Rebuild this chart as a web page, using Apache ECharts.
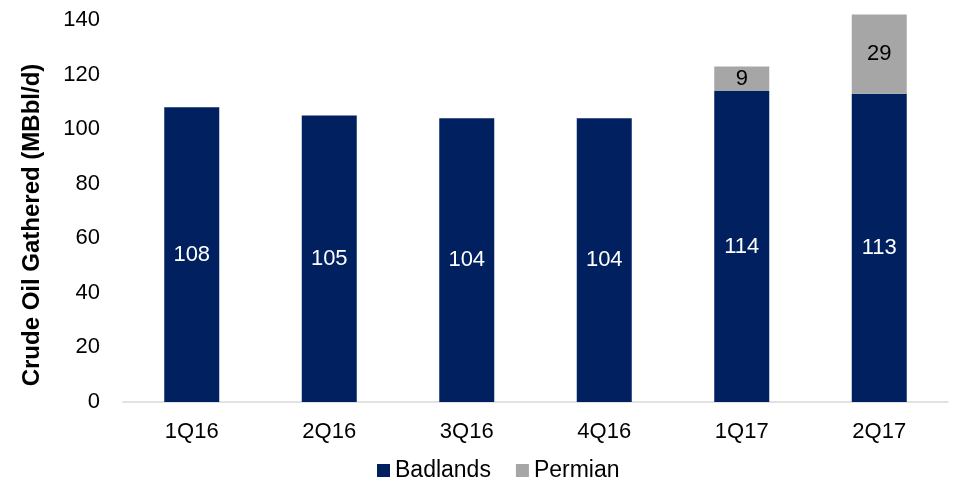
<!DOCTYPE html>
<html><head><meta charset="utf-8">
<script src="https://cdn.jsdelivr.net/npm/echarts@6/dist/echarts.min.js"></script>
<style>html,body{margin:0;padding:0;background:#fff}#c{width:957px;height:478px}</style>
</head><body><div id="c"></div>
<script>
const categories = ['1Q16','2Q16','3Q16','4Q16','1Q17','2Q17'];
const badlands = [108,105,104,104,114,113];
const permian = [null,null,null,null,9,29];
const yTicks = {min:0,max:140,interval:20};
const font = 'Liberation Sans, Arial, sans-serif';
const chart = echarts.init(document.getElementById('c'));
chart.setOption({
  animation:false,
  textStyle:{fontFamily:font},
  grid:{left:123,right:9,top:20,bottom:76},
  legend:{top:454,left:372,itemWidth:13,itemHeight:13,itemGap:25,icon:'rect',
    textStyle:{fontSize:23,color:'#000',fontFamily:font},data:['Badlands','Permian']},
  xAxis:{type:'category',data:categories,
    axisLine:{lineStyle:{color:'#d9d9d9',width:1.5}},axisTick:{show:false},
    axisLabel:{fontSize:22,color:'#000',margin:19,fontFamily:font}},
  yAxis:{type:'value',min:yTicks.min,max:yTicks.max,interval:yTicks.interval,
    splitLine:{show:false},axisLine:{show:false},axisTick:{show:false},
    axisLabel:{fontSize:22,color:'#000',margin:23,fontFamily:font},
    name:'Crude Oil Gathered (MBbl/d)',nameLocation:'middle',nameGap:79,
    nameTextStyle:{fontSize:24,fontWeight:'bold',color:'#000',fontFamily:font,padding:[0,28,0,0]}},
  series:[
    {name:'Badlands',type:'bar',stack:'a',data:badlands,barWidth:55,clip:false,
      itemStyle:{color:'#002060'},
      label:{show:true,position:'inside',color:'#fff',fontSize:22,fontFamily:font}},
    {name:'Permian',type:'bar',stack:'a',data:permian,barWidth:55,clip:false,
      itemStyle:{color:'#a6a6a6'},
      label:{show:true,position:'inside',color:'#000',fontSize:22,fontFamily:font}}
  ]
});
</script></body></html>
